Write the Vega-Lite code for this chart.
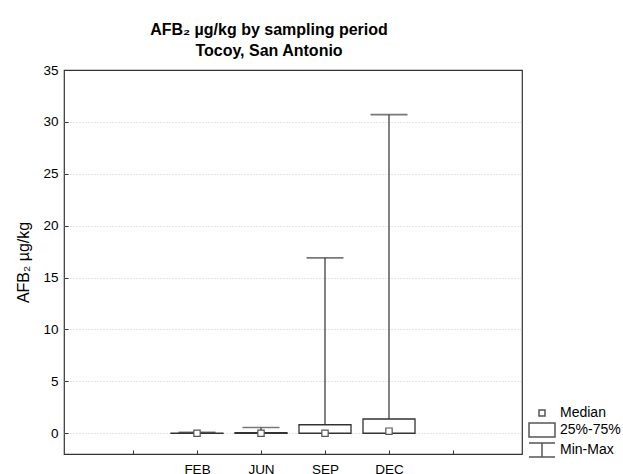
{
  "$schema": "https://vega.github.io/schema/vega-lite/v6.json",
  "width": 458,
  "height": 384,
  "autosize": {"type": "none"},
  "padding": {"left": 64, "top": 70, "right": 101, "bottom": 20},
  "background": "white",
  "config": {
    "font": "Liberation Sans",
    "view": {"stroke": "#333333", "strokeWidth": 1.2},
    "axis": {"labelFont": "Liberation Sans", "labelFontSize": 13.5, "labelColor": "#000000", "titleFont": "Liberation Sans", "titleColor": "#000000", "domain": false, "tickColor": "#333333"},
    "legend": {"labelFont": "Liberation Sans", "labelFontSize": 14, "labelColor": "#000000"}
  },
  "title": {
    "text": ["AFB₂  µg/kg by sampling period", "Tocoy, San Antonio"],
    "font": "Liberation Sans",
    "fontSize": 16,
    "fontWeight": "bold",
    "color": "#000000",
    "anchor": "middle",
    "dx": -24,
    "offset": 4,
    "lineHeight": 21
  },
  "data": {
    "values": [
      {"month": "FEB", "pos": 2, "min": 0, "q1": 0, "median": 0, "q3": 0.02, "max": 0.1},
      {"month": "JUN", "pos": 3, "min": 0, "q1": 0, "median": 0, "q3": 0.05, "max": 0.55},
      {"month": "SEP", "pos": 4, "min": 0, "q1": 0, "median": 0, "q3": 0.82, "max": 16.9},
      {"month": "DEC", "pos": 5, "min": 0, "q1": 0, "median": 0.2, "q3": 1.37, "max": 30.7}
    ]
  },
  "encoding": {
    "x": {
      "field": "pos",
      "type": "quantitative",
      "scale": {"domain": [0, 7], "nice": false, "zero": false},
      "axis": {
        "title": null,
        "values": [1, 2, 3, 4, 5, 6],
        "labelExpr": "['', '', 'FEB', 'JUN', 'SEP', 'DEC', '', ''][datum.value]",
        "grid": false,
        "tickSize": -4,
        "labelPadding": 12
      }
    }
  },
  "layer": [
    {
      "mark": {"type": "rule", "color": "#404040", "strokeWidth": 1.3},
      "encoding": {
        "y": {
          "field": "min",
          "type": "quantitative",
          "scale": {"domain": [-2, 35], "nice": false, "zero": false},
          "axis": {
            "title": "AFB₂ µg/kg",
            "titleFontSize": 16,
            "titleFontWeight": "normal",
            "titlePadding": 11,
            "values": [0, 5, 10, 15, 20, 25, 30, 35],
            "grid": true,
            "gridColor": "#c8c8c8",
            "gridDash": [1, 2],
            "gridWidth": 1,
            "gridOpacity": {"condition": {"test": "datum.value === 35", "value": 0}, "value": 1},
            "tickSize": -4,
            "labelPadding": 10
          }
        },
        "y2": {"field": "max"}
      }
    },
    {
      "mark": {"type": "tick", "orient": "horizontal", "color": "#404040", "size": 37, "thickness": 1.6},
      "encoding": {"y": {"field": "max", "type": "quantitative"}}
    },
    {
      "mark": {"type": "tick", "orient": "horizontal", "color": "#404040", "size": 37, "thickness": 1.6},
      "encoding": {"y": {"field": "min", "type": "quantitative"}}
    },
    {
      "mark": {"type": "bar", "fill": "white", "stroke": "#333333", "strokeWidth": 1.3, "size": 52},
      "encoding": {
        "y": {"field": "q1", "type": "quantitative"},
        "y2": {"field": "q3"}
      }
    },
    {
      "mark": {"type": "point", "filled": true, "fill": "white", "stroke": "#555555", "strokeWidth": 1.2, "size": 40, "opacity": 1},
      "encoding": {
        "y": {"field": "median", "type": "quantitative"},
        "shape": {
          "datum": "Median",
          "scale": {
            "domain": ["Median", "25%-75%", "Min-Max"],
            "range": ["square", "M-4.33,-2.33H4.33V2.33H-4.33Z", "M-4.33,-2.33H4.33M0,-2.33V2.33M-4.33,2.33H4.33"]
          },
          "legend": {
            "title": null,
            "orient": "none",
            "legendX": 471,
            "legendY": 336,
            "symbolSize": 36,
            "labelOffset": 11,
            "rowPadding": 0,
            "encode": {
              "symbols": {
                "update": {
                  "fill": {"value": "white"},
                  "stroke": {"value": "#333333"},
                  "strokeWidth": {"value": 1.2},
                  "opacity": {"value": 1}
                }
              }
            }
          }
        }
      }
    }
  ]
}
